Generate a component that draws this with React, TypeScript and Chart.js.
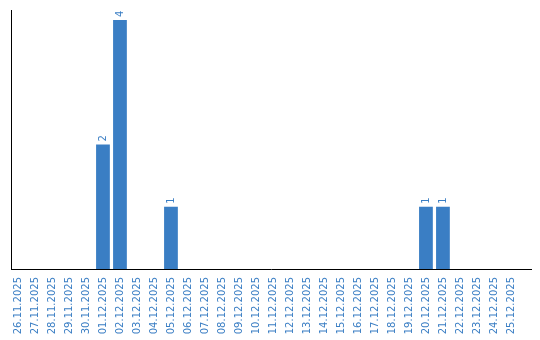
import React, { useEffect, useRef } from "react";
import { Chart, registerables } from "chart.js";

Chart.register(...registerables);

const categories = [
  "26.11.2025", "27.11.2025", "28.11.2025", "29.11.2025", "30.11.2025",
  "01.12.2025", "02.12.2025", "03.12.2025", "04.12.2025", "05.12.2025",
  "06.12.2025", "07.12.2025", "08.12.2025", "09.12.2025", "10.12.2025",
  "11.12.2025", "12.12.2025", "13.12.2025", "14.12.2025", "15.12.2025",
  "16.12.2025", "17.12.2025", "18.12.2025", "19.12.2025", "20.12.2025",
  "21.12.2025", "22.12.2025", "23.12.2025", "24.12.2025", "25.12.2025",
];
const values = [
  0, 0, 0, 0, 0,
  2, 4, 0, 0, 1,
  0, 0, 0, 0, 0,
  0, 0, 0, 0, 0,
  0, 0, 0, 0, 1,
  1, 0, 0, 0, 0,
];

const BLUE = "#3a7ec4";
const FONT = "DejaVu Sans";

const valueLabels = {
  id: "valueLabels",
  afterDatasetsDraw(chart: any) {
    const ctx = chart.ctx;
    const meta = chart.getDatasetMeta(0);
    ctx.save();
    ctx.fillStyle = BLUE;
    ctx.font = `10px "${FONT}"`;
    ctx.textAlign = "left";
    ctx.textBaseline = "middle";
    meta.data.forEach((bar: any, i: number) => {
      const v = values[i];
      if (!v) return;
      ctx.save();
      ctx.translate(bar.x, bar.y - 3);
      ctx.rotate(-Math.PI / 2);
      ctx.fillText(String(v), 0, 0);
      ctx.restore();
    });
    ctx.restore();
  },
};

export default function App() {
  const ref = useRef<HTMLCanvasElement | null>(null);
  useEffect(() => {
    document.body.style.margin = "0";
    const chart = new Chart(ref.current!, {
      type: "bar",
      data: {
        datasets: [
          {
            data: values.map((v, i) => ({ x: i, y: v })),
            backgroundColor: BLUE,
            barPercentage: 0.9,
            categoryPercentage: 0.9,
          },
        ],
      },
      options: {
        animation: false,
        responsive: false,
        maintainAspectRatio: false,
        layout: { padding: { top: 10, right: 9, left: 0, bottom: 0 } },
        plugins: { legend: { display: false }, tooltip: { enabled: false } },
        scales: {
          x: {
            type: "linear",
            offset: false,
            min: -0.41,
            max: 30.18,
            grid: { display: false, drawTicks: false },
            border: { display: true, color: "#000", width: 1 },
            ticks: {
              stepSize: 1,
              includeBounds: false,
              color: BLUE,
              font: { family: FONT, size: 10 },
              autoSkip: false,
              minRotation: 90,
              maxRotation: 90,
              padding: 8,
              callback: (v: any) => categories[Math.round(Number(v))] ?? "",
            },
            afterFit: (s: any) => {
              s.height = 71;
              s.paddingLeft = 0;
              s.paddingRight = 0;
            },
          },
          y: {
            min: 0,
            max: 4.16,
            grid: { display: false, drawTicks: false },
            border: { display: true, color: "#000", width: 1 },
            ticks: { display: false },
            afterFit: (s: any) => {
              s.width = 11;
              s.paddingTop = 0;
              s.paddingBottom = 0;
            },
          },
        },
      },
      plugins: [valueLabels],
    });
    return () => chart.destroy();
  }, []);
  return (
    <div style={{ width: 540, height: 340 }}>
      <canvas ref={ref} width={540} height={340} />
    </div>
  );
}
